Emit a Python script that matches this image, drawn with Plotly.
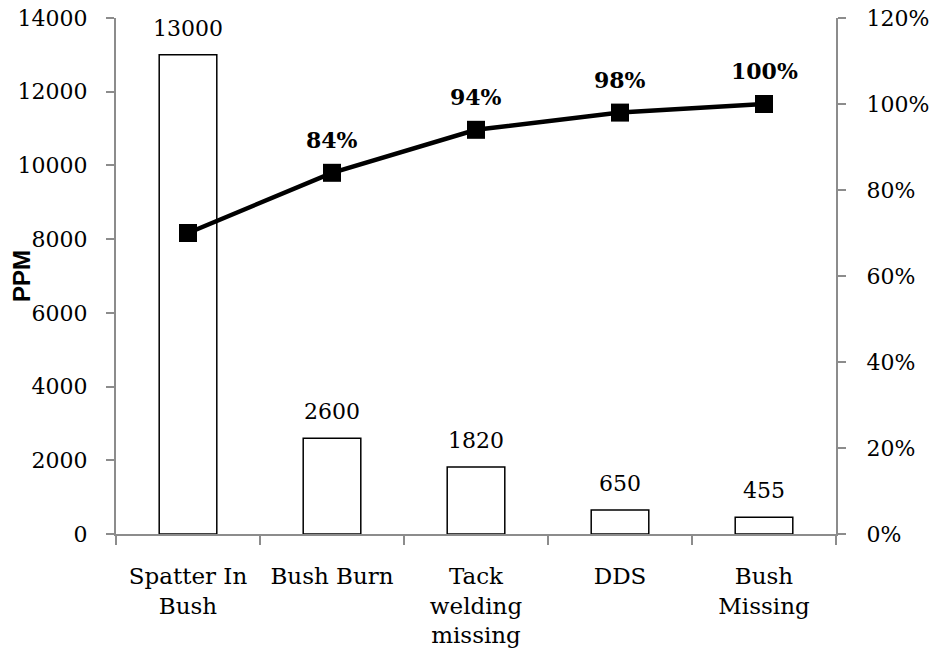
import plotly.graph_objects as go

categories = ["Spatter In<br>Bush", "Bush Burn", "Tack<br>welding<br>missing", "DDS", "Bush<br>Missing"]
ppm = [13000, 2600, 1820, 650, 455]
cumulative_pct = [70, 84, 94, 98, 100]
pct_labels = ["", "84%", "94%", "98%", "100%"]

serif = "DejaVu Serif"
axis_grey = "#8c8c8c"

fig = go.Figure()

fig.add_trace(go.Bar(
    x=categories, y=ppm,
    width=0.4,
    marker=dict(color="white", line=dict(color="black", width=1.5)),
    yaxis="y",
    showlegend=False,
))

fig.add_trace(go.Scatter(
    x=categories, y=[v / 100 for v in cumulative_pct],
    mode="lines+markers",
    line=dict(color="black", width=4.5),
    marker=dict(symbol="square", size=18, color="black"),
    yaxis="y2",
    showlegend=False,
))

annotations = []
for c, v in zip(categories, ppm):
    annotations.append(dict(
        x=c, y=v, xref="x", yref="y", text=str(v), showarrow=False,
        yanchor="bottom", yshift=12,
        font=dict(family=serif, size=22, color="black"),
    ))
for c, v, lab in zip(categories, cumulative_pct, pct_labels):
    if lab:
        annotations.append(dict(
            x=c, y=v / 100, xref="x", yref="y2", text="<b>" + lab + "</b>", showarrow=False,
            yanchor="bottom", yshift=18,
            font=dict(family=serif, size=22, color="black"),
        ))

# Left axis title, placed just left of the tick labels
annotations.append(dict(
    x=0, y=0.5, xref="paper", yref="paper", text="<b>PPM</b>", showarrow=False,
    textangle=-90, xanchor="center", yanchor="middle", xshift=-95,
    font=dict(family="Liberation Sans", size=24, color="black"),
))

fig.update_layout(
    width=930, height=666,
    margin=dict(l=116, r=94, t=18, b=132),
    paper_bgcolor="white", plot_bgcolor="white",
    annotations=annotations,
    xaxis=dict(
        type="category", automargin=False,
        showline=True, linecolor=axis_grey, linewidth=2,
        ticks="outside", tickson="boundaries", ticklen=9, tickcolor=axis_grey, tickwidth=2,
        tickfont=dict(family=serif, size=23, color="black"),
        ticklabelstandoff=20,
        showgrid=False, zeroline=False,
    ),
    yaxis=dict(
        range=[0, 14000], dtick=2000, tickformat="d", automargin=False,
        showline=True, linecolor=axis_grey, linewidth=2,
        ticks="outside", ticklen=8, tickcolor=axis_grey, tickwidth=2,
        tickfont=dict(family=serif, size=22, color="black"),
        ticklabelstandoff=14,
        showgrid=False, zeroline=False,
    ),
    yaxis2=dict(
        range=[0, 1.2], dtick=0.2, tickformat=".0%", automargin=False,
        overlaying="y", side="right",
        showline=True, linecolor=axis_grey, linewidth=2,
        ticks="outside", ticklen=8, tickcolor=axis_grey, tickwidth=2,
        tickfont=dict(family=serif, size=22, color="black"),
        ticklabelstandoff=16,
        showgrid=False, zeroline=False,
    ),
)

fig.write_html("out.html")
